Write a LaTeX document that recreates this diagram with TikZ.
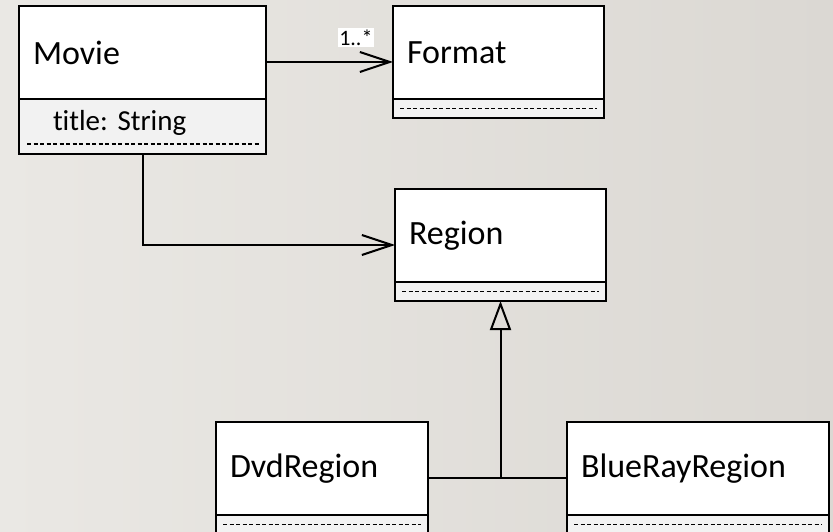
\documentclass[tikz,border=0pt]{standalone}
\usepackage{fontspec}
\setmainfont[Ligatures=NoCommon]{Carlito}
\usetikzlibrary{arrows.meta,calc,positioning}
\definecolor{bgleft}{RGB}{234,232,228}
\definecolor{bgright}{RGB}{219,216,211}
\definecolor{compgray}{RGB}{242,242,242}
\frenchspacing
\begin{document}
\begin{tikzpicture}[x=1pt,y=-1pt,
	classname/.style={draw, line width=2pt, fill=white, anchor=north west, inner xsep=14pt, inner ysep=0pt, outer sep=0pt,
		minimum height=93pt, text width=#1, align=left, font=\fontsize{34}{40}\selectfont},
	classattr/.style={draw, line width=2pt, fill=compgray, inner xsep=34pt, inner ysep=0pt, outer sep=0pt,
		minimum height=19pt, text width=#1, align=left, font=\fontsize{29}{34}\selectfont},
	sep/.style={line width=1.8pt, dash pattern=on 4pt off 2.5pt},
	assoc/.style={line width=2pt, -{Straight Barb[length=30pt,width=20pt]}},
	inherit/.style={line width=2pt, -{Triangle[open,length=29pt,width=21pt]}},
	mult/.style={fill=white, inner sep=1.5pt, font=\fontsize{22}{24}\selectfont}]
\useasboundingbox (0,0) rectangle (833,532);
\clip (0,0) rectangle (833,532);
% background
\shade[left color=bgleft, right color=bgright] (0,0) rectangle (833,532);

% classes
				\node[classname=219pt] (moviename) at (19,6) {Movie};
				\node[classattr=179pt, minimum height=55pt, text height=20pt, text depth=12pt, below=0pt of moviename] (movieattr) {title: String};
				\draw[sep] ([xshift=8pt,yshift=10pt]movieattr.south west) -- ([xshift=-6pt,yshift=10pt]movieattr.south east);

				\node[classname=183pt] (formatname) at (393,6) {Format};
				\node[classattr=143pt, below=0pt of formatname] (formatattr) {};
				\draw[sep] ([xshift=7pt]formatattr.west) -- ([xshift=-7pt]formatattr.east);

				\node[classname=183pt] (regionname) at (395,189) {Region};
				\node[classattr=143pt, below=0pt of regionname] (regionattr) {};
				\draw[sep] ([xshift=7pt]regionattr.west) -- ([xshift=-7pt]regionattr.east);

				\node[classname=184pt] (dvdname) at (216,422) {DvdRegion};
				\node[classattr=144pt, below=0pt of dvdname] (dvdattr) {};
				\draw[sep] ([xshift=7pt]dvdattr.west) -- ([xshift=-7pt]dvdattr.east);

				\node[classname=234pt] (bluename) at (567,422) {BlueRayRegion};
				\node[classattr=194pt, below=0pt of bluename] (blueattr) {};
				\draw[sep] ([xshift=7pt]blueattr.west) -- ([xshift=-7pt]blueattr.east);

% middle of each class box
				\coordinate (formatmid) at ($(formatname.north west)!0.5!(formatattr.south west)$);
				\coordinate (regionmid) at ($(regionname.north west)!0.5!(regionattr.south west)$);
				\coordinate (dvdmid) at ($(dvdname.north east)!0.5!(dvdattr.south east)$);
				\coordinate (bluemid) at ($(bluename.north west)!0.5!(blueattr.south west)$);

% associations
				\draw[assoc] (moviename.east |- formatmid) -- (formatmid)
					node[mult, anchor=south east, xshift=-18pt, yshift=14pt] (multformat) {1..*};
				\draw[assoc] (movieattr.south) |- (regionmid);

% generalization
				\draw[line width=2pt] (dvdmid) -- (bluemid);
				\draw[inherit] (regionattr.south |- dvdmid) -- (regionattr.south);
\end{tikzpicture}
\end{document}
